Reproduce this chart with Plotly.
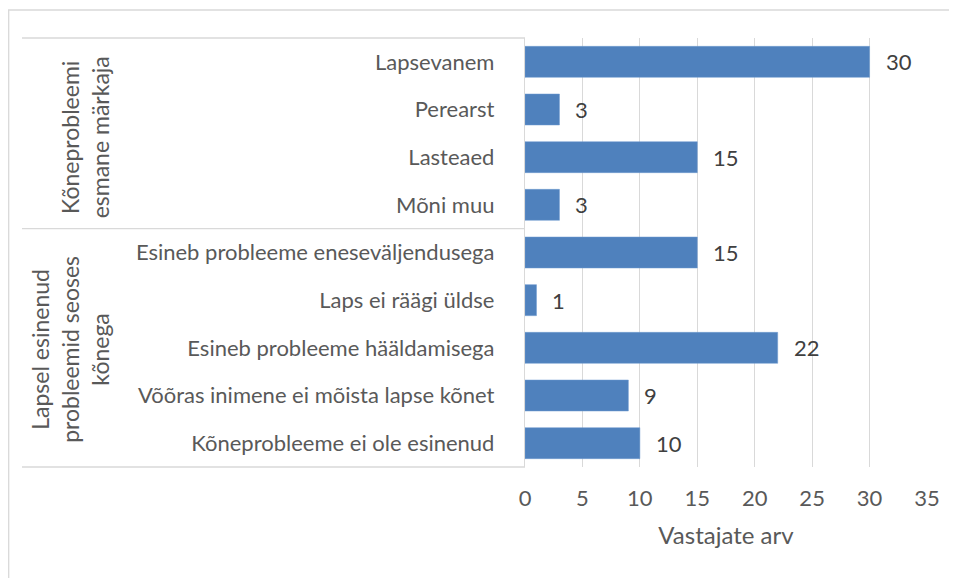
import plotly.graph_objects as go

categories = [
    "Lapsevanem",
    "Perearst",
    "Lasteaed",
    "Mõni muu",
    "Esineb probleeme eneseväljendusega",
    "Laps ei räägi üldse",
    "Esineb probleeme hääldamisega",
    "Võõras inimene ei mõista lapse kõnet",
    "Kõneprobleeme ei ole esinenud",
]
values = [30, 3, 15, 3, 15, 1, 22, 9, 10]
group_labels = ["Kõneprobleemi<br>esmane märkaja", "Lapsel esinenud<br>probleemid seoses<br>kõnega"]
group_sizes = [4, 5]
x_ticks = [0, 5, 10, 15, 20, 25, 30, 35]
x_title = "Vastajate arv"

FONT = "Lato"
GRAY = "#595959"
LINE = "#D9D9D9"
OFF = 8  # page body margin
W, H = 957 - OFF, 578 - OFF
ML, MR, MT, MB = 525 - OFF, 30, 38 - OFF, 111
pw = W - ML - MR
ph = H - MT - MB

def px_to_paper_x(px):
    return (px - OFF - ML) / pw

def px_to_paper_y(py):
    return (H - MB - (py - OFF)) / ph

fig = go.Figure()
fig.add_trace(go.Bar(
    x=values, y=categories, orientation="h",
    marker=dict(color="#4F81BD", line=dict(color="#6F9BD1", width=0.5)),
    width=0.65, hoverinfo="x+y",
))

annotations = []
for c, v in zip(categories, values):
    annotations.append(dict(x=v, y=c, xref="x", yref="y", text=str(v), showarrow=False,
                            xanchor="left", xshift=14, font=dict(family=FONT, size=22, color="#404040")))

# group labels
n = len(categories)
start = 0
group_x = [85, 70]
group_yshift = [-4, -2]
for gi, (lab, size) in enumerate(zip(group_labels, group_sizes)):
    top = 1 - start / n
    bot = 1 - (start + size) / n
    annotations.append(dict(x=0, y=(top + bot) / 2, xref="paper", yref="paper", text=lab,
                            showarrow=False, textangle=-90, xanchor="center", yanchor="middle",
                            xshift=group_x[gi] - OFF - ML, yshift=group_yshift[gi],
                            font=dict(family=FONT, size=23, color=GRAY)))
    start += size

shapes = []
bounds = [0]
for s in group_sizes:
    bounds.append(bounds[-1] + s)
for b in bounds:
    yy = 1 - b / n
    shapes.append(dict(type="line", xref="paper", yref="paper", x0=px_to_paper_x(22), x1=0,
                       y0=yy, y1=yy, line=dict(color=LINE, width=1.3)))
# outer border
shapes.append(dict(type="line", xref="paper", yref="paper", x0=px_to_paper_x(8.7), x1=px_to_paper_x(8.7),
                   y0=px_to_paper_y(10), y1=px_to_paper_y(600), line=dict(color=LINE, width=1.3)))
shapes.append(dict(type="line", xref="paper", yref="paper", x0=px_to_paper_x(8), x1=px_to_paper_x(980),
                   y0=px_to_paper_y(10), y1=px_to_paper_y(10), line=dict(color=LINE, width=1.3)))

fig.update_layout(
    width=W, height=H,
    margin=dict(l=ML, r=MR, t=MT, b=MB, pad=0),
    paper_bgcolor="white", plot_bgcolor="white",
    showlegend=False,
    annotations=annotations,
    shapes=shapes,
    xaxis=dict(range=[0, 35], tickvals=x_ticks, showgrid=True, gridcolor=LINE, gridwidth=1.3,
               zeroline=False, showline=False, ticks="", ticklabelstandoff=16,
               tickfont=dict(family=FONT, size=22, color=GRAY),
               title=dict(text=x_title, font=dict(family=FONT, size=24, color=GRAY), standoff=17)),
    yaxis=dict(categoryorder="array", categoryarray=categories, autorange="reversed",
               showline=True, linecolor=LINE, linewidth=1.3, ticks="", ticklabelstandoff=25,
               showgrid=False, tickfont=dict(family=FONT, size=22, color=GRAY)),
)

fig.write_html("out.html")
